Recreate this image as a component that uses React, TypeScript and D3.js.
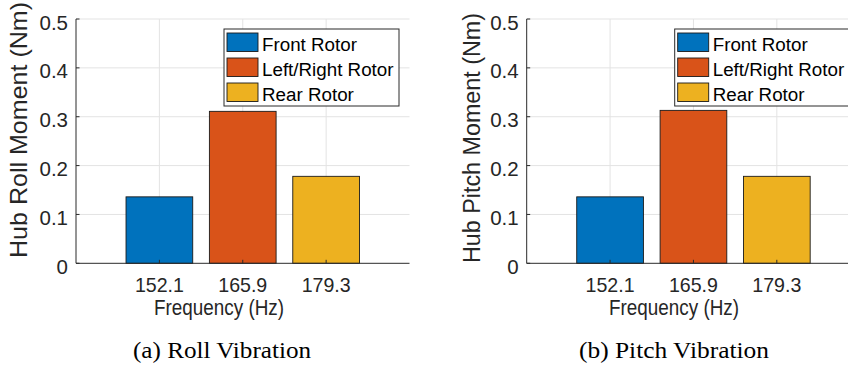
import React from "react";
import * as d3 from "d3";

// Hub moment amplitude at each rotor's excitation frequency
const frequencies = ["152.1", "165.9", "179.3"];
const rotors = ["Front Rotor", "Left/Right Rotor", "Rear Rotor"];
const rollMoment = [0.136, 0.311, 0.178];
const pitchMoment = [0.136, 0.313, 0.178];
const yTicks = [0, 0.1, 0.2, 0.3, 0.4, 0.5];
const yTickLabels = ["0", "0.1", "0.2", "0.3", "0.4", "0.5"];
const rotorColors = ["#0072BD", "#D95319", "#EDB120"];

const W = 848;
const H = 365;
const SANS = "'Liberation Sans', Arial, Helvetica, sans-serif";
const SERIF = "'Liberation Serif', 'Times New Roman', serif";
const AXIS = "#2b2b2b";
const GRID = "#e3e3e3";
const TEXT = "#262626";

type PanelProps = {
  values: number[];
  yLabel: string;
  caption: string;
  left: number;
  yLabelSize: number;
  yLabelLength: number;
  yLabelX: number;
  yLabelY: number;
  xLabelX: number;
  xLabelLength: number;
  captionX: number;
  captionLength: number;
};

function Panel({
  values,
  yLabel,
  caption,
  left,
  yLabelSize,
  yLabelLength,
  yLabelX,
  yLabelY,
  xLabelX,
  xLabelLength,
  captionX,
  captionLength,
}: PanelProps) {
  const plotW = 333.5;
  const top = 19;
  const bottom = 263.3;
  const x = d3.scaleLinear().domain([0, 4]).range([left, left + plotW]);
  const y = d3.scaleLinear().domain([0, 0.5]).range([bottom, top]);
  const barW = x(0.8) - x(0);
  const cats = frequencies.map((_, i) => i + 1);

  const legX = left + 148;
  const legY = 29;
  const legW = 175;
  const legH = 77;

  return (
    <g>
      {/* grid */}
      {yTicks.slice(1).map((t) => (
        <line key={"gy" + t} x1={x(0)} x2={x(4)} y1={y(t)} y2={y(t)} stroke={GRID} strokeWidth={1} />
      ))}
      {cats.map((c) => (
        <line key={"gx" + c} x1={x(c)} x2={x(c)} y1={y(0)} y2={y(0.5)} stroke={GRID} strokeWidth={1} />
      ))}

      {/* bars */}
      {values.map((v, i) => (
        <rect
          key={"b" + i}
          x={x(cats[i]) - barW / 2}
          y={y(v)}
          width={barW}
          height={y(0) - y(v)}
          fill={rotorColors[i]}
          stroke="#1a1a1a"
          strokeWidth={0.9}
        />
      ))}

      {/* axes */}
      <line x1={x(0)} x2={x(0)} y1={y(0)} y2={y(0.5)} stroke={AXIS} strokeWidth={1} />
      <line x1={x(0)} x2={x(4)} y1={y(0)} y2={y(0)} stroke={AXIS} strokeWidth={1} />
      {yTicks.map((t) => (
        <line key={"ty" + t} x1={x(0)} x2={x(0) + 3.5} y1={y(t)} y2={y(t)} stroke={AXIS} strokeWidth={1} />
      ))}
      {cats.map((c) => (
        <line key={"tx" + c} x1={x(c)} x2={x(c)} y1={y(0)} y2={y(0) - 3.5} stroke={AXIS} strokeWidth={1} />
      ))}

      {/* tick labels */}
      {yTicks.map((t, i) => (
        <text
          key={"ly" + t}
          x={x(0) - 8}
          y={y(t) + 10.5}
          textAnchor="end"
          fontFamily={SANS}
          fontSize={20.5}
          fill={TEXT}
        >
          {yTickLabels[i]}
        </text>
      ))}
      {frequencies.map((f, i) => (
        <text
          key={"lx" + f}
          x={x(cats[i])}
          y={292}
          textAnchor="middle"
          fontFamily={SANS}
          fontSize={21}
          fill={TEXT}
          textLength={49}
          lengthAdjust="spacingAndGlyphs"
        >
          {f}
        </text>
      ))}

      {/* axis titles */}
      <text
        x={xLabelX}
        y={315}
        textAnchor="middle"
        fontFamily={SANS}
        fontSize={22}
        fill={TEXT}
        textLength={xLabelLength}
        lengthAdjust="spacingAndGlyphs"
      >
        Frequency (Hz)
      </text>
      <text
        transform={`translate(${yLabelX},${yLabelY}) rotate(-90)`}
        textAnchor="middle"
        fontFamily={SANS}
        fontSize={yLabelSize}
        fill={TEXT}
        textLength={yLabelLength}
        lengthAdjust="spacingAndGlyphs"
      >
        {yLabel}
      </text>

      {/* legend */}
      <rect x={legX} y={legY} width={legW} height={legH} fill="#ffffff" stroke={AXIS} strokeWidth={1} />
      {rotors.map((r, i) => (
        <g key={"lg" + i}>
          <rect
            x={legX + 3}
            y={legY + 4 + i * 25}
            width={31}
            height={18.5}
            fill={rotorColors[i]}
            stroke="#1a1a1a"
            strokeWidth={0.9}
          />
          <text x={legX + 38} y={legY + 22 + i * 25} fontFamily={SANS} fontSize={18.8} fill="#000">
            {r}
          </text>
        </g>
      ))}

      {/* caption */}
      <text
        x={captionX}
        y={358}
        textAnchor="middle"
        fontFamily={SERIF}
        fontSize={24}
        fill="#000"
        textLength={captionLength}
        lengthAdjust="spacingAndGlyphs"
      >
        {caption}
      </text>
    </g>
  );
}

export default function App() {
  return (
    <svg
      width={W}
      height={H}
      viewBox={`0 0 ${W} ${H}`}
      style={{ position: "absolute", left: 0, top: 0, display: "block", background: "#fff" }}
    >
      <rect x={0} y={0} width={W} height={H} fill="#fff" />
      <Panel
        values={rollMoment}
        yLabel="Hub Roll Moment (Nm)"
        caption="(a) Roll Vibration"
        left={76}
        yLabelSize={24}
        yLabelLength={256}
        yLabelX={27}
        yLabelY={130}
        xLabelX={219}
        xLabelLength={130}
        captionX={222}
        captionLength={178}
      />
      <Panel
        values={pitchMoment}
        yLabel="Hub Pitch Moment (Nm)"
        caption="(b) Pitch Vibration"
        left={526.7}
        yLabelSize={23}
        yLabelLength={250}
        yLabelX={480}
        yLabelY={138}
        xLabelX={674}
        xLabelLength={130}
        captionX={674}
        captionLength={190}
      />
    </svg>
  );
}
